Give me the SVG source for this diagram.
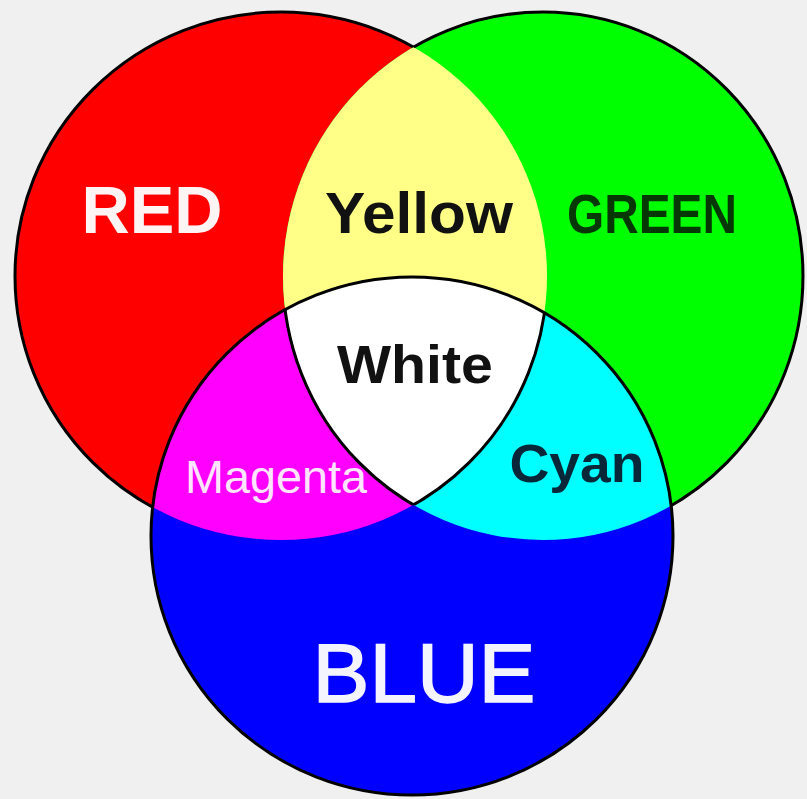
<svg xmlns="http://www.w3.org/2000/svg" width="807" height="799" viewBox="0 0 807 799">
<style>
.lbl{font-family:"Liberation Sans",Arial,sans-serif;font-weight:bold;text-anchor:middle}
.edge{fill:none;stroke:#000;stroke-width:3}
</style>
<defs>
<clipPath id="cR"><ellipse cx="281" cy="276" rx="266" ry="264"/></clipPath>
<clipPath id="cG"><ellipse cx="543" cy="276" rx="260" ry="264"/></clipPath>
<clipPath id="redEdgeClip">
<path clip-rule="evenodd" d="M0 0H807V799H0Z M151 536a261 259 0 1 0 522 0a261 259 0 1 0 -522 0Z"/>
<ellipse cx="543" cy="276" rx="260" ry="264"/>
</clipPath>
<clipPath id="greenEdgeClip">
<path clip-rule="evenodd" d="M0 0H807V799H0Z M151 536a261 259 0 1 0 522 0a261 259 0 1 0 -522 0Z"/>
<ellipse cx="281" cy="276" rx="266" ry="264"/>
</clipPath>
</defs>
<rect width="807" height="799" fill="#f0f0f0"/>
<g id="red">
<ellipse cx="281" cy="276" rx="266" ry="264" fill="#ff0000"/>
</g>
<g id="green">
<ellipse cx="543" cy="276" rx="260" ry="264" fill="#00ff00"/>
</g>
<g id="blue">
<ellipse cx="412" cy="536" rx="261" ry="259" fill="#0000ff"/>
</g>
<g id="yellow">
<ellipse cx="543" cy="276" rx="260" ry="264" fill="#ffff88" clip-path="url(#cR)"/>
</g>
<g id="magenta">
<ellipse cx="412" cy="536" rx="261" ry="259" fill="#ff00ff" clip-path="url(#cR)"/>
</g>
<g id="cyan">
<ellipse cx="412" cy="536" rx="261" ry="259" fill="#00ffff" clip-path="url(#cG)"/>
</g>
<g id="white">
<g clip-path="url(#cG)"><ellipse cx="412" cy="536" rx="261" ry="259" fill="#ffffff" clip-path="url(#cR)"/></g>
</g>
<g id="outlines">
<ellipse class="edge" cx="281" cy="276" rx="266" ry="264" clip-path="url(#redEdgeClip)"/>
<ellipse class="edge" cx="543" cy="276" rx="260" ry="264" clip-path="url(#greenEdgeClip)"/>
<ellipse class="edge" cx="412" cy="536" rx="261" ry="259"/>
</g>
<g id="labels">
<text class="lbl" x="152" y="233" font-size="67" fill="#fff4f4" textLength="141" lengthAdjust="spacingAndGlyphs">RED</text>
<text class="lbl" x="419" y="233" font-size="57" fill="#111" textLength="188" lengthAdjust="spacingAndGlyphs">Yellow</text>
<text class="lbl" x="652" y="233" font-size="56" fill="#063806" textLength="170" lengthAdjust="spacingAndGlyphs">GREEN</text>
<text class="lbl" x="415" y="383" font-size="53" fill="#111" textLength="156" lengthAdjust="spacingAndGlyphs">White</text>
<text class="lbl" x="577" y="482" font-size="54" fill="#08283a" textLength="135" lengthAdjust="spacingAndGlyphs">Cyan</text>
<text x="276" y="493" font-family="'Liberation Sans',Arial,sans-serif" font-size="46" fill="#ffe4ff" text-anchor="middle" textLength="182" lengthAdjust="spacingAndGlyphs">Magenta</text>
<text x="424" y="702" font-family="'Liberation Sans',Arial,sans-serif" font-size="84" fill="#f4f4ff" stroke="#f4f4ff" stroke-width="1.5" text-anchor="middle" textLength="223" lengthAdjust="spacingAndGlyphs">BLUE</text>
</g>
</svg>
